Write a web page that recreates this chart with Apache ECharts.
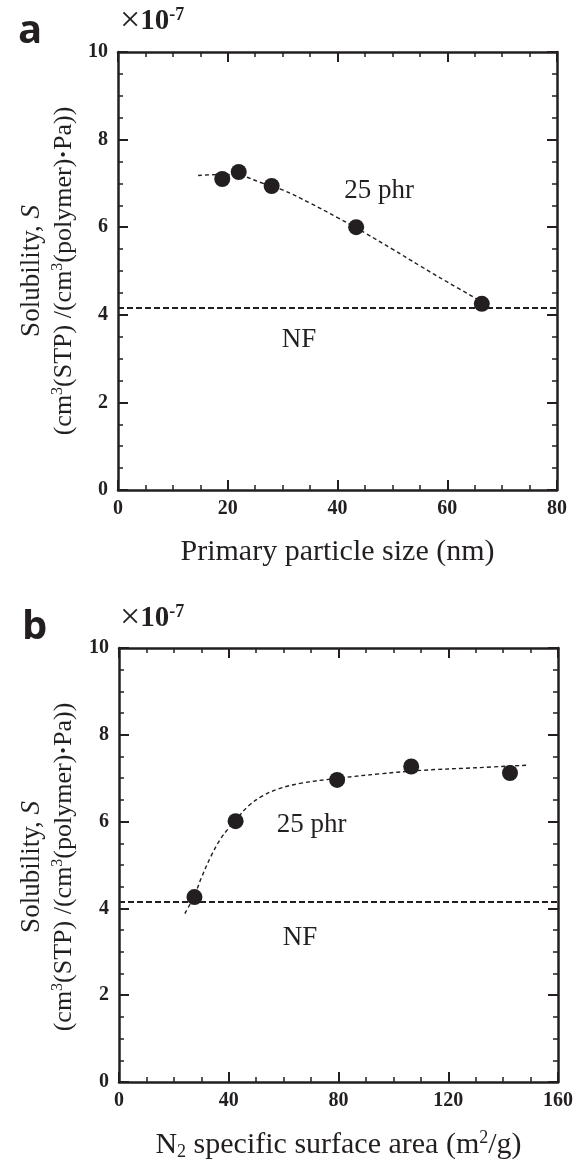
<!DOCTYPE html>
<html>
<head>
<meta charset="utf-8">
<script src="https://cdn.jsdelivr.net/npm/echarts@6/dist/echarts.min.js"></script>
<style>
html, body { margin: 0; padding: 0; background: #fff; }
#chart { width: 577px; height: 1162px; }
</style>
</head>
<body>
<div id="chart"></div>
<script>
// panel a: primary particle size (nm) vs solubility (x1e-7)
const sizeNm = [19, 22, 28, 43.4, 66.3]
const solA = [7.1, 7.26, 6.94, 6.0, 4.25]
const fitSizeNm = [14.6, 18, 22, 26, 30, 35, 40, 45, 50, 55, 60, 66]
const fitSolA = [7.18, 7.2, 7.18, 7.02, 6.85, 6.55, 6.22, 5.87, 5.5, 5.12, 4.75, 4.32]

// panel b: N2 specific surface area (m2/g) vs solubility (x1e-7)
const n2sa = [27.5, 42.5, 79.5, 106.5, 142.5]
const solB = [4.26, 6.01, 6.96, 7.27, 7.12]
const fitN2sa = [24, 27.5, 30, 33.5, 37, 40, 43, 47, 52, 58, 66, 80, 95, 110, 130, 149]
const fitSolB = [3.88, 4.3, 4.7, 5.2, 5.6, 5.85, 6.07, 6.35, 6.58, 6.75, 6.88, 7.0, 7.1, 7.18, 7.24, 7.3]

// unfilled reference level
const nfLevel = 4.15

// text notes, in data units
const noteTextA = ['25 phr', 'NF']
const noteXA = [47.6, 33]
const noteYA = [6.83, 3.42]
const noteTextB = ['25 phr', 'NF']
const noteXB = [70.2, 66]
const noteYB = [5.93, 3.33]

const ink = '#231f20'
const serif = '"Liberation Serif", "Times New Roman", serif'

function xAxisPair(grid, max, step, minorSplit, name) {
  const base = {
    gridIndex: grid,
    type: 'value',
    min: 0,
    max: max,
    interval: step,
    axisLine: { show: true, onZero: false, lineStyle: { color: ink, width: 2.5 } },
    axisTick: { show: true, inside: true, length: 10, lineStyle: { color: ink, width: 2 } },
    minorTick: { show: true, splitNumber: minorSplit, length: 5, lineStyle: { color: ink, width: 1.5 } },
    splitLine: { show: false },
  }
  return [
    Object.assign({}, base, {
      position: 'bottom',
      axisLabel: { color: ink, fontFamily: serif, fontWeight: 'bold', fontSize: 20, margin: 9 },
      name: name,
      nameLocation: 'middle',
      nameGap: 47,
      nameTextStyle: {
        color: ink, fontFamily: serif, fontSize: 30,
        rich: {
          t: { fontFamily: serif, fontSize: 30, color: ink, lineHeight: 32 },
          sup: { fontFamily: serif, fontSize: 18, color: ink, verticalAlign: 'top', lineHeight: 32 },
          sub: { fontFamily: serif, fontSize: 18, color: ink, verticalAlign: 'bottom', lineHeight: 32 },
        },
      },
    }),
    Object.assign({}, base, { position: 'top', axisLabel: { show: false } }),
  ]
}

function yAxisPair(grid) {
  const base = {
    gridIndex: grid,
    type: 'value',
    min: 0,
    max: 10,
    interval: 2,
    axisLine: { show: true, onZero: false, lineStyle: { color: ink, width: 2.5 } },
    axisTick: { show: true, inside: true, length: 10, lineStyle: { color: ink, width: 2 } },
    minorTick: { show: true, splitNumber: 4, length: 5, lineStyle: { color: ink, width: 1.5 } },
    splitLine: { show: false },
  }
  return [
    Object.assign({}, base, {
      position: 'left',
      axisLabel: { color: ink, fontFamily: serif, fontWeight: 'bold', fontSize: 20, margin: 10 },
    }),
    Object.assign({}, base, { position: 'right', axisLabel: { show: false } }),
  ]
}

function panelSeries(ax, xs, ys, fx, fy, nt, nx, ny) {
  return [
    {
      type: 'line',
      xAxisIndex: ax,
      yAxisIndex: ax,
      data: fx.map((x, i) => [x, fy[i]]),
      smooth: 0.4,
      showSymbol: false,
      symbol: 'none',
      lineStyle: { color: ink, width: 1.4, type: [4, 3] },
      markLine: {
        silent: true,
        symbol: 'none',
        label: { show: false },
        lineStyle: { color: ink, width: 2, type: [6, 3] },
        data: [{ yAxis: nfLevel }],
      },
      z: 2,
    },
    {
      type: 'scatter',
      xAxisIndex: ax,
      yAxisIndex: ax,
      data: xs.map((x, i) => [x, ys[i]]),
      symbol: 'circle',
      symbolSize: 16,
      itemStyle: { color: ink, opacity: 1 },
      z: 3,
    },
    {
      type: 'scatter',
      xAxisIndex: ax,
      yAxisIndex: ax,
      data: nt.map((t, i) => ({ name: t, value: [nx[i], ny[i]] })),
      symbolSize: 0,
      itemStyle: { opacity: 1 },
      label: {
        show: true,
        position: 'inside',
        formatter: (p) => p.name,
        color: ink,
        fontFamily: serif,
        fontSize: 27,
      },
      z: 4,
    },
  ]
}

const xa = xAxisPair(0, 80, 20, 4, 'Primary particle size (nm)')
const xb = xAxisPair(1, 160, 40, 4, '{t|N}{sub|2}{t| specific surface area (m}{sup|2}{t|/g)}')
const ya = yAxisPair(0)
const yb = yAxisPair(1)

function yTitle(cx, cy) {
  return [
    {
      type: 'text',
      x: cx - 16,
      y: cy,
      rotation: Math.PI / 2,
      style: {
        text: '{t|Solubility, }{i|S}',
        align: 'center',
        verticalAlign: 'middle',
        rich: {
          t: { fontFamily: serif, fontSize: 27, fill: ink },
          i: { fontFamily: serif, fontSize: 27, fontStyle: 'italic', fill: ink },
        },
      },
    },
    {
      type: 'text',
      x: cx + 16,
      y: cy,
      rotation: Math.PI / 2,
      style: {
        text: '{t|(cm}{sup|3}{t|(STP) /(cm}{sup|3}{t|(polymer)}{d|·}{t|Pa))}',
        align: 'center',
        verticalAlign: 'middle',
        rich: {
          t: { fontFamily: serif, fontSize: 26, fill: ink, lineHeight: 28 },
          sup: { fontFamily: serif, fontSize: 16, fill: ink, verticalAlign: 'top', lineHeight: 28 },
          d: { fontFamily: serif, fontSize: 26, fontWeight: 'bold', fill: ink, lineHeight: 28 },
        },
      },
    },
  ]
}

function exponent(x, y) {
  return {
    type: 'text',
    x: x,
    y: y,
    style: {
      text: '{m|×}{n|10}{s|-7}',
      rich: {
        m: { fontFamily: serif, fontSize: 36, fill: ink, lineHeight: 32 },
        n: { fontFamily: serif, fontSize: 29, fontWeight: 'bold', fill: ink, lineHeight: 32 },
        s: { fontFamily: serif, fontSize: 18, fontWeight: 'bold', fill: ink, verticalAlign: 'top', lineHeight: 32 },
      },
    },
  }
}

function panelTag(t, x, y) {
  return {
    type: 'text',
    x: x,
    y: y,
    style: { text: t, fontFamily: '"Open Sans", "DejaVu Sans", sans-serif', fontWeight: 'bold', fontSize: 40, fill: ink },
  }
}

const chart = echarts.init(document.getElementById('chart'), null, { renderer: 'canvas' })
chart.setOption({
  animation: false,
  backgroundColor: '#fff',
  grid: [
    { left: 118, top: 52, width: 439, height: 438 },
    { left: 119, top: 648, width: 439, height: 438 },
  ],
  xAxis: [xa[0], xb[0], xa[1], xb[1]],
  yAxis: [ya[0], yb[0], ya[1], yb[1]],
  series: [
    ...panelSeries(0, sizeNm, solA, fitSizeNm, fitSolA, noteTextA, noteXA, noteYA),
    ...panelSeries(1, n2sa, solB, fitN2sa, fitSolB, noteTextB, noteXB, noteYB),
  ],
  graphic: [
    panelTag('a', 18, 12),
    panelTag('b', 22, 608),
    exponent(120, 6),
    exponent(120, 603),
    ...yTitle(48, 271),
    ...yTitle(48, 867),
  ],
})
</script>
</body>
</html>
